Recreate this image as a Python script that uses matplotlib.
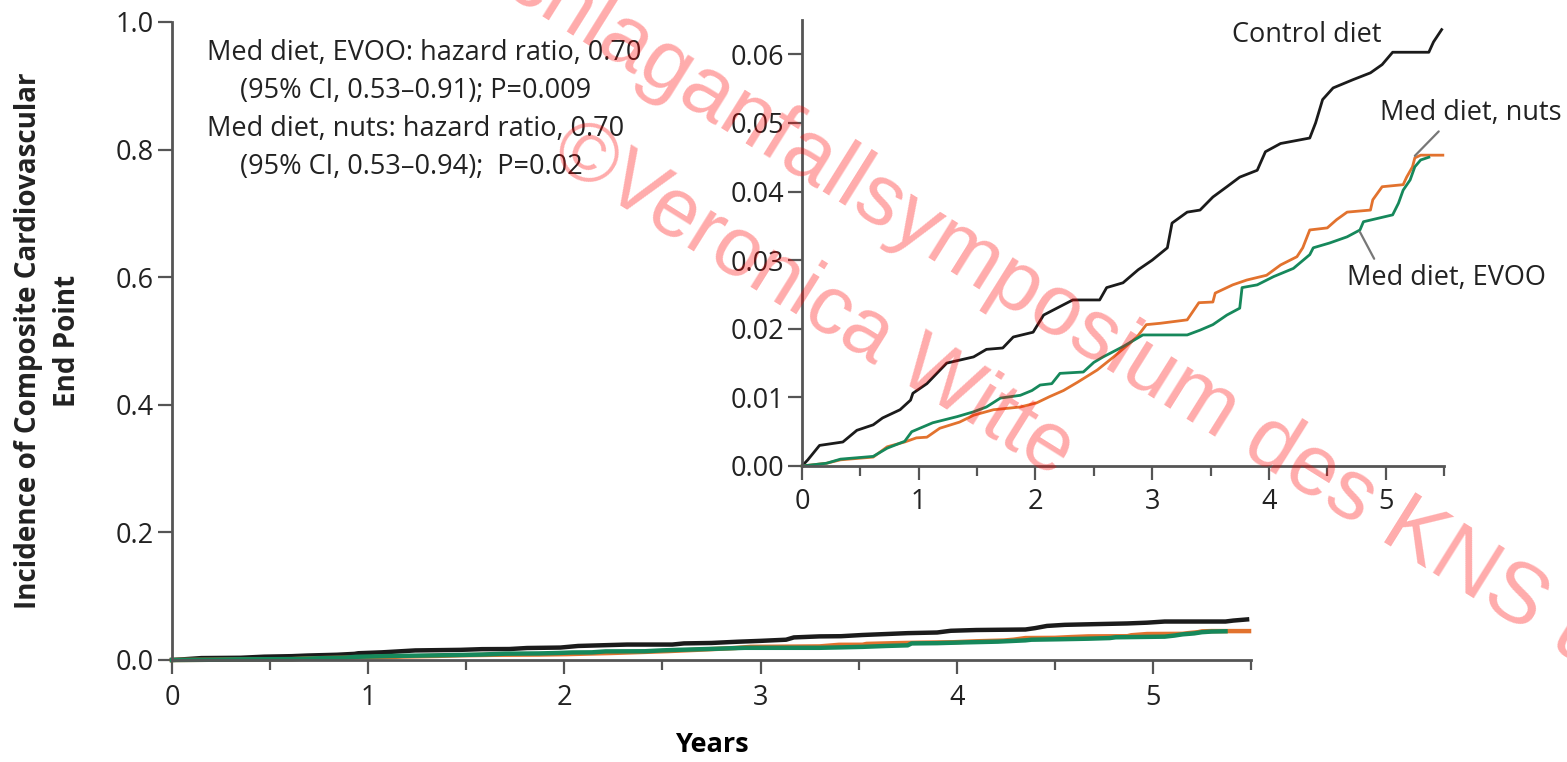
import matplotlib
matplotlib.use("Agg")
import matplotlib.pyplot as plt
from matplotlib.ticker import MultipleLocator, FormatStrFormatter

# Kaplan-Meier style cumulative incidence
control_years = [0, 0.05, 0.15, 0.35, 0.47, 0.61, 0.69, 0.84, 0.93, 0.95, 1.07, 1.24,
                 1.47, 1.58, 1.72, 1.81, 1.98, 2.07, 2.24, 2.32, 2.55, 2.61, 2.75, 2.88,
                 3.0, 3.13, 3.17, 3.30, 3.41, 3.52, 3.64, 3.75, 3.90, 3.97, 4.10, 4.35,
                 4.40, 4.46, 4.55, 4.72, 4.87, 4.97, 5.06, 5.37, 5.41, 5.48]
control_inc = [0, 0.0009, 0.003, 0.0035, 0.0052, 0.006, 0.007, 0.0082, 0.0096, 0.0106,
               0.012, 0.015, 0.0159, 0.017, 0.0172, 0.0188, 0.0195, 0.022, 0.0235,
               0.0242, 0.0242, 0.026, 0.0267, 0.0286, 0.030, 0.0318, 0.0354, 0.037,
               0.0373, 0.0392, 0.0407, 0.0421, 0.0431, 0.0458, 0.047, 0.0478, 0.05,
               0.0534, 0.0551, 0.0563, 0.0573, 0.0585, 0.0603, 0.0603, 0.0618, 0.0636]

nuts_years = [0, 0.21, 0.33, 0.61, 0.73, 0.88, 0.98, 1.07, 1.18, 1.35, 1.47, 1.64, 1.87,
              2.01, 2.12, 2.24, 2.36, 2.53, 2.67, 2.87, 2.95, 3.07, 3.30, 3.40, 3.52,
              3.54, 3.69, 3.81, 3.98, 4.10, 4.24, 4.29, 4.35, 4.50, 4.58, 4.67, 4.87,
              4.89, 4.97, 5.15, 5.18, 5.23, 5.25, 5.30, 5.49]
nuts_inc = [0, 0.0004, 0.0009, 0.0013, 0.0028, 0.0035, 0.0041, 0.0042, 0.0055, 0.0064,
            0.0074, 0.0082, 0.0086, 0.0092, 0.0101, 0.011, 0.0122, 0.014, 0.0159, 0.0188,
            0.0206, 0.0208, 0.0213, 0.0238, 0.0239, 0.0252, 0.0264, 0.0271, 0.0278,
            0.0293, 0.0305, 0.0318, 0.0344, 0.0347, 0.0359, 0.037, 0.0373, 0.0388,
            0.0407, 0.041, 0.0421, 0.0436, 0.0449, 0.0453, 0.0453]

evoo_years = [0, 0.21, 0.33, 0.61, 0.73, 0.88, 0.94, 1.12, 1.33, 1.47, 1.58, 1.70, 1.87,
              1.97, 2.04, 2.14, 2.21, 2.41, 2.50, 2.58, 2.75, 2.92, 3.30, 3.41, 3.52,
              3.64, 3.75, 3.77, 3.90, 4.04, 4.21, 4.35, 4.38, 4.52, 4.67, 4.78, 4.81,
              5.06, 5.11, 5.15, 5.21, 5.25, 5.30, 5.37]
evoo_inc = [0, 0.0004, 0.001, 0.0014, 0.0026, 0.0036, 0.005, 0.0063, 0.0072, 0.0079,
            0.0086, 0.0099, 0.0103, 0.011, 0.0118, 0.012, 0.0135, 0.0137, 0.0151, 0.0159,
            0.0174, 0.0191, 0.0191, 0.0198, 0.0206, 0.022, 0.023, 0.026, 0.0264, 0.0276,
            0.0288, 0.0308, 0.0318, 0.0325, 0.0334, 0.0344, 0.0356, 0.0366, 0.0383,
            0.0402, 0.0417, 0.0436, 0.0446, 0.045]

hr_text = ["Med diet, EVOO: hazard ratio, 0.70",
           "(95% CI, 0.53\u20130.91); P=0.009",
           "Med diet, nuts: hazard ratio, 0.70",
           "(95% CI, 0.53\u20130.94);  P=0.02"]

BLACK = "#1b1b1b"
ORANGE = "#E2722E"
GREEN = "#16885B"
SPINE = "#555555"
TXT = "#222222"
FONT = "Open Sans"
FS = 19.5

plt.rcParams['font.family'] = [FONT, 'DejaVu Sans']

W, H = 1567, 762
fig = plt.figure(figsize=(W / 100, H / 100), dpi=100)


def style_axes(a):
    for s in ['top', 'right']:
        a.spines[s].set_visible(False)
    for s in ['left', 'bottom']:
        a.spines[s].set_color(SPINE)
        a.spines[s].set_linewidth(2.0)
    a.tick_params(which='major', direction='out', length=10, width=1.6, color=SPINE,
                  labelsize=FS, labelcolor=TXT)
    a.tick_params(which='minor', direction='out', length=7, width=1.6, color=SPINE)
    a.tick_params(axis='y', pad=3)
    a.xaxis.set_major_locator(MultipleLocator(1))
    a.xaxis.set_minor_locator(MultipleLocator(0.5))


# main panel
ax = fig.add_axes([172 / W, 1 - 660 / H, (1251 - 172) / W, (660 - 22) / H])
style_axes(ax)
ax.tick_params(axis='x', pad=7)
ax.set_xlim(0, 5.5)
ax.set_ylim(0, 1.0)
ax.yaxis.set_major_locator(MultipleLocator(0.2))
ax.yaxis.set_major_formatter(FormatStrFormatter('%.1f'))
ax.plot(control_years, control_inc, color=BLACK, lw=3.2, clip_on=False)
ax.plot(nuts_years, nuts_inc, color=ORANGE, lw=3.2, clip_on=False)
ax.plot(evoo_years, evoo_inc, color=GREEN, lw=3.2, clip_on=False)
ax.set_xlabel("Years", fontsize=FS, fontweight='bold', labelpad=15)
fig.text(48 / W, 1 - 341 / H, "Incidence of Composite Cardiovascular\nEnd Point",
         rotation=90, ha='center', va='center', multialignment='center',
         fontsize=20, fontweight='bold', color=TXT, linespacing=1.45)

for i, line in enumerate(hr_text):
    x0 = 207 if i % 2 == 0 else 240
    fig.text(x0 / W, 1 - (53 + i * 38) / H, line, ha='left', va='center',
             fontsize=FS, color=TXT)

# inset zoom
ins = fig.add_axes([802 / W, 1 - 466 / H, (1444 - 802) / W, (466 - 20) / H])
style_axes(ins)
ins.tick_params(axis='x', pad=6)
ins.set_xlim(0, 5.5)
ins.set_ylim(0, 0.065)
ins.yaxis.set_major_locator(MultipleLocator(0.01))
ins.yaxis.set_major_formatter(FormatStrFormatter('%.2f'))
ins.plot(control_years, control_inc, color=BLACK, lw=2.0, clip_on=False)
ins.plot(nuts_years, nuts_inc, color=ORANGE, lw=2.0, clip_on=False)
ins.plot(evoo_years, evoo_inc, color=GREEN, lw=2.0, clip_on=False)

ins.text(4.32, 0.0628, "Control diet", ha='center', va='center', fontsize=FS,
         color=TXT, clip_on=False)
ins.annotate("Med diet, nuts", xy=(5.25, 0.0452), xytext=(4.95, 0.0515),
             ha='left', va='center', fontsize=FS, color=TXT,
             annotation_clip=False,
             arrowprops=dict(arrowstyle='-', color="#777777", lw=1.6,
                             relpos=(0.35, 0.0), shrinkA=2, shrinkB=0))
ins.annotate("Med diet, EVOO", xy=(4.78, 0.0341), xytext=(4.67, 0.0274),
             ha='left', va='center', fontsize=FS, color=TXT,
             annotation_clip=False,
             arrowprops=dict(arrowstyle='-', color="#777777", lw=1.6,
                             relpos=(0.15, 1.0), shrinkA=2, shrinkB=0))

# watermark (runs off the edges as in the source image)
fig.text(452 / W, 1 - (-40) / H, "Schlaganfallsymposium des KNS und",
         rotation=-32, rotation_mode='anchor', ha='left', va='baseline',
         fontsize=62, color='red', alpha=0.33, family='Liberation Sans', zorder=10)
fig.text(548 / W, 1 - 160 / H, "\u00a9Veronica Witte",
         rotation=-32, rotation_mode='anchor', ha='left', va='baseline',
         fontsize=60, color='red', alpha=0.33, family='Liberation Sans', zorder=10)

fig.savefig("out.png", dpi=100)
